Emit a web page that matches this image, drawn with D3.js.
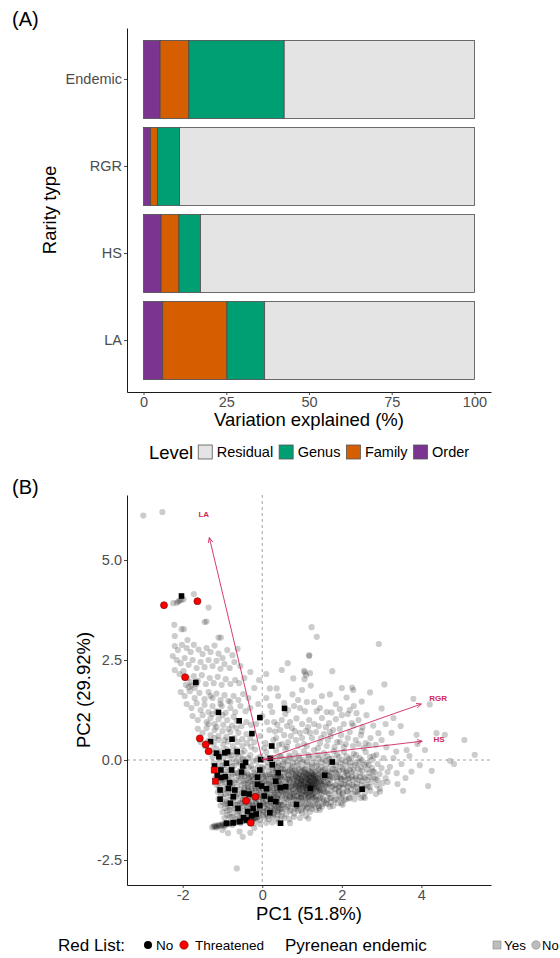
<!DOCTYPE html>
<html>
<head>
<meta charset="utf-8">
<script src="https://cdn.jsdelivr.net/npm/d3@7"></script>
<style>
  body { margin: 0; background: #fff; }
  svg { font-family: "Liberation Sans", Arial, Helvetica, sans-serif; }
</style>
</head>
<body>
<div id="chart"></div>
<script>
// ---------------- panel A data ----------------
const rarityTypes = ["Endemic", "RGR", "HS", "LA"];
const levels = ["Order", "Family", "Genus", "Residual"];
const legendLevels = ["Residual", "Genus", "Family", "Order"];
const orderVals = [5.0, 2.1, 5.3, 5.8];
const familyVals = [8.7, 2.1, 5.4, 19.4];
const genusVals = [28.8, 6.7, 6.5, 11.4];
const residualVals = [57.5, 89.1, 82.8, 63.4];
const pctTicks = [0, 25, 50, 75, 100];

// ---------------- panel B data ----------------
const pc1Ticks = [-2, 0, 2, 4];
const pc2Ticks = [-2.5, 0, 2.5, 5];
const loadNames = ["LA", "RGR", "HS"];
const loadPC1 = [-1.33, 4.0, 4.02];
const loadPC2 = [5.56, 1.4, 0.47];

// grey cloud: species that are neither endemic nor threatened
const cloudCoreA = [
  [0.52,-0.22],[0.61,-0.31],[0.7,-0.25],[0.78,-0.35],[0.86,-0.28],[0.95,-0.33],[1.04,-0.24],[1.12,-0.36],[1.2,-0.29],[1.28,-0.38],[1.36,-0.27],[1.45,-0.34],[1.53,-0.25],[1.62,-0.37],[1.7,-0.3],[1.78,-0.22],
  [0.55,-0.42],[0.64,-0.48],[0.73,-0.41],[0.81,-0.5],[0.9,-0.44],[0.98,-0.52],[1.07,-0.45],[1.15,-0.5],[1.23,-0.43],[1.31,-0.51],[1.4,-0.46],[1.48,-0.53],[1.57,-0.44],[1.66,-0.5],[1.75,-0.42],
  [0.5,-0.6],[0.59,-0.66],[0.68,-0.58],[0.76,-0.64],[0.85,-0.6],[0.93,-0.69],[1.02,-0.61],[1.1,-0.67],[1.19,-0.58],[1.27,-0.65],[1.35,-0.6],[1.44,-0.7],[1.52,-0.62],[1.61,-0.67],[1.7,-0.59],[1.79,-0.65],
  [0.54,-0.78],[0.63,-0.84],[0.72,-0.76],[0.8,-0.83],[0.89,-0.77],[0.97,-0.86],[1.06,-0.79],[1.14,-0.85],[1.23,-0.77],[1.31,-0.84],[1.4,-0.78],[1.49,-0.86],[1.58,-0.8],[1.67,-0.85],
  [0.57,-0.95],[0.66,-1.0],[0.75,-0.93],[0.84,-0.99],[0.93,-0.94],[1.01,-1.02],[1.1,-0.96],[1.19,-1.01],[1.28,-0.94],[1.37,-1.0],[1.46,-0.95],[1.55,-1.02],
  [0.56,-0.32],[0.66,-0.38],[0.75,-0.3],[0.83,-0.42],[0.92,-0.37],[1.0,-0.42],[1.09,-0.33],[1.18,-0.4],[1.26,-0.34],[1.33,-0.42],[1.42,-0.38],[1.5,-0.43],[1.59,-0.33],[1.68,-0.4],
  [0.6,-0.55],[0.69,-0.51],[0.78,-0.56],[0.87,-0.53],[0.96,-0.58],[1.04,-0.54],[1.13,-0.59],[1.21,-0.53],[1.3,-0.57],[1.38,-0.53],[1.47,-0.58],[1.55,-0.54],[1.64,-0.58],
  [0.58,-0.72],[0.67,-0.7],[0.77,-0.73],[0.86,-0.69],[0.95,-0.75],[1.03,-0.71],[1.12,-0.74],[1.2,-0.7],[1.29,-0.73],[1.38,-0.69],[1.46,-0.75],[1.55,-0.72],
  [0.6,-0.88],[0.7,-0.91],[0.79,-0.89],[0.88,-0.9],[0.98,-0.92],[1.08,-0.88],[1.17,-0.91],[1.26,-0.88],[1.35,-0.91],
  [1.0,-0.47],[1.08,-0.5],[1.16,-0.45],[1.24,-0.55],[1.32,-0.48],[1.05,-0.62],[1.14,-0.66],[1.22,-0.62],[1.3,-0.69],[1.11,-0.39],[1.2,-0.52],[1.27,-0.45],[0.88,-0.46],[0.94,-0.63],[1.36,-0.56]
];
const cloudCoreA2 = [
  [0.32,0.04],[0.44,0.09],[0.56,0.01],[0.68,0.11],[0.8,0.03],[0.92,0.1],[1.04,0.0],[1.16,0.12],[1.28,0.05],[1.4,0.13],[1.52,0.02],[1.64,0.1],[1.76,0.04],[1.88,0.13],[2.0,0.0],[2.12,0.09],[2.24,0.05],[2.36,0.12],[2.5,0.0],
  [0.3,-0.1],[0.41,-0.14],[0.53,-0.06],[0.65,-0.12],[0.77,-0.07],[0.89,-0.13],[1.01,-0.05],[1.13,-0.12],[1.25,-0.07],[1.37,-0.14],[1.49,-0.06],[1.61,-0.11],[1.73,-0.05],[1.85,-0.13],[1.97,-0.07],[2.09,-0.12],[2.21,-0.06],[2.33,-0.13],[2.45,-0.05],[2.57,-0.12],
  [0.35,-0.25],[0.45,-0.29],[0.57,-0.24],[0.66,-0.28],[0.74,-0.21],[0.82,-0.26],[0.91,-0.22],[0.99,-0.28],[1.08,-0.23],[1.16,-0.27],[1.25,-0.2],[1.33,-0.3],[1.41,-0.23],[1.49,-0.29],[1.58,-0.22],[1.66,-0.27],[1.75,-0.33],[1.83,-0.24],[1.93,-0.27],[2.02,-0.22],[2.11,-0.32],[2.2,-0.24],[2.3,-0.26],[2.4,-0.21],[2.52,-0.27],[2.64,-0.23],[2.78,-0.28],
  [0.33,-0.44],[0.46,-0.42],[0.58,-0.47],[0.68,-0.45],[0.76,-0.47],[0.85,-0.4],[0.94,-0.48],[1.03,-0.39],[1.12,-0.47],[1.19,-0.44],[1.28,-0.41],[1.36,-0.45],[1.45,-0.41],[1.53,-0.48],[1.62,-0.42],[1.71,-0.47],[1.8,-0.45],[1.88,-0.43],[1.97,-0.46],[2.06,-0.42],[2.15,-0.47],[2.25,-0.41],[2.35,-0.46],[2.46,-0.42],[2.58,-0.46],[2.7,-0.42],[2.85,-0.47],
  [0.32,-0.62],[0.45,-0.6],[0.55,-0.66],[0.64,-0.62],[0.73,-0.67],[0.81,-0.61],[0.9,-0.65],[0.98,-0.6],[1.07,-0.66],[1.16,-0.62],[1.24,-0.68],[1.32,-0.63],[1.41,-0.66],[1.49,-0.6],[1.58,-0.64],[1.67,-0.62],[1.75,-0.68],[1.84,-0.62],[1.94,-0.65],[2.04,-0.6],[2.15,-0.66],[2.26,-0.62],[2.37,-0.67],[2.5,-0.63],[2.65,-0.67],
  [0.36,-0.8],[0.48,-0.77],[0.59,-0.82],[0.68,-0.79],[0.76,-0.84],[0.85,-0.8],[0.93,-0.83],[1.02,-0.78],[1.1,-0.82],[1.19,-0.8],[1.27,-0.83],[1.36,-0.79],[1.45,-0.82],[1.54,-0.78],[1.63,-0.82],[1.72,-0.77],[1.82,-0.83],[1.92,-0.78],[2.03,-0.82],[2.15,-0.79],[2.27,-0.84],[2.4,-0.79],
  [0.38,-0.96],[0.5,-0.93],[0.61,-0.98],[0.7,-0.95],[0.8,-0.97],[0.89,-0.99],[0.98,-0.96],[1.06,-0.99],[1.15,-0.95],[1.24,-0.98],[1.33,-0.96],[1.42,-0.99],[1.52,-0.96],[1.62,-0.99],[1.73,-0.94],[1.85,-0.97],[1.98,-0.95],[2.1,-0.98],
  [0.4,-1.12],[0.55,-1.08],[0.66,-1.14],[0.77,-1.1],[0.87,-1.15],[0.97,-1.1],[1.07,-1.14],[1.17,-1.1],[1.27,-1.13],[1.38,-1.09],[1.5,-1.16],[1.6,-1.08],[1.73,-1.06],
  [0.45,-1.24],[0.58,-1.22],[0.72,-1.25],[0.86,-1.22],[0.98,-1.26],[1.12,-1.2],[1.25,-1.22],[1.42,-1.2],
  [0.84,-0.34],[0.97,-0.38],[1.06,-0.31],[1.15,-0.35],[1.24,-0.31],[1.3,-0.37],[0.9,-0.55],[0.99,-0.52],[1.09,-0.56],[1.18,-0.55],[1.26,-0.6],[1.34,-0.52],[1.43,-0.55],
  [0.83,-0.66],[0.92,-0.72],[1.0,-0.68],[1.09,-0.7],[1.17,-0.68],[1.25,-0.73],[1.34,-0.67],[1.42,-0.73],[1.0,-0.85],[1.12,-0.82],[1.22,-0.86]
];
const cloudCoreB = [
  [-0.38,-0.33],[-0.29,-0.4],[-0.2,-0.31],[-0.11,-0.38],[-0.02,-0.3],[0.07,-0.37],[0.16,-0.29],[0.25,-0.36],[0.34,-0.3],[0.43,-0.38],
  [-0.4,-0.5],[-0.31,-0.55],[-0.22,-0.48],[-0.13,-0.56],[-0.04,-0.49],[0.05,-0.54],[0.14,-0.47],[0.23,-0.55],[0.32,-0.48],[0.41,-0.53],[0.48,-0.46],
  [-0.37,-0.66],[-0.28,-0.72],[-0.19,-0.65],[-0.1,-0.71],[-0.01,-0.64],[0.08,-0.7],[0.17,-0.63],[0.26,-0.71],[0.35,-0.65],[0.44,-0.7],
  [-0.4,-0.84],[-0.31,-0.88],[-0.22,-0.82],[-0.13,-0.89],[-0.04,-0.81],[0.05,-0.87],[0.14,-0.8],[0.23,-0.88],[0.32,-0.82],[0.41,-0.86],[0.49,-0.8],
  [-0.36,-1.0],[-0.27,-1.05],[-0.18,-0.98],[-0.09,-1.04],[0.0,-0.97],[0.09,-1.03],[0.18,-0.96],[0.27,-1.04],[0.36,-0.98],[0.45,-1.05],
  [-0.39,-1.17],[-0.3,-1.21],[-0.21,-1.15],[-0.12,-1.2],[-0.03,-1.14],[0.06,-1.19],[0.15,-1.13],[0.24,-1.2],[0.33,-1.15],[0.42,-1.19],
  [-0.34,-1.33],[-0.25,-1.37],[-0.16,-1.31],[-0.07,-1.36],[0.02,-1.3],[0.11,-1.35],[0.2,-1.29],[0.29,-1.34],[0.38,-1.3],
  [-0.33,-0.45],[-0.24,-0.6],[-0.15,-0.44],[-0.06,-0.59],[0.03,-0.42],[0.12,-0.6],[0.21,-0.42],[0.3,-0.6],[0.39,-0.43],
  [-0.34,-0.78],[-0.25,-0.93],[-0.16,-0.76],[-0.07,-0.93],[0.02,-0.75],[0.11,-0.92],[0.2,-0.75],[0.29,-0.93],[0.38,-0.76],
  [-0.32,-1.11],[-0.23,-1.27],[-0.14,-1.09],[-0.05,-1.26],[0.04,-1.08],[0.13,-1.26],[0.22,-1.08],[0.31,-1.26],[0.4,-1.1]
];
const cloudCoreB2 = [
  [-0.48,0.02],[-0.36,0.05],[-0.24,-0.02],[-0.12,0.04],[0.0,0.0],[0.12,0.06],[0.24,-0.01],
  [-0.46,-0.22],[-0.34,-0.18],[-0.22,-0.23],[-0.1,-0.17],[0.02,-0.22],[0.14,-0.16],[0.26,-0.24],[0.38,-0.18],[0.48,-0.22],
  [-0.44,-0.4],[-0.35,-0.37],[-0.26,-0.41],[-0.17,-0.36],[-0.08,-0.42],[0.01,-0.37],[0.1,-0.41],[0.19,-0.36],[0.28,-0.42],[0.37,-0.37],[0.46,-0.41],
  [-0.45,-0.58],[-0.36,-0.6],[-0.27,-0.53],[-0.18,-0.59],[-0.09,-0.53],[0.0,-0.58],[0.09,-0.52],[0.18,-0.59],[0.27,-0.53],[0.36,-0.59],[0.45,-0.56],
  [-0.44,-0.74],[-0.35,-0.7],[-0.26,-0.76],[-0.17,-0.7],[-0.08,-0.76],[0.01,-0.7],[0.1,-0.76],[0.19,-0.69],[0.28,-0.76],[0.37,-0.7],[0.46,-0.75],
  [-0.44,-0.92],[-0.35,-0.95],[-0.26,-0.89],[-0.17,-0.94],[-0.08,-0.88],[0.01,-0.93],[0.1,-0.87],[0.19,-0.93],[0.28,-0.87],[0.37,-0.93],[0.46,-0.9],
  [-0.43,-1.08],[-0.34,-1.06],[-0.25,-1.12],[-0.16,-1.06],[-0.07,-1.12],[0.02,-1.05],[0.11,-1.11],[0.2,-1.05],[0.29,-1.12],[0.38,-1.05],[0.47,-1.12],
  [-0.42,-1.25],[-0.33,-1.28],[-0.24,-1.22],[-0.15,-1.27],[-0.06,-1.21],[0.03,-1.27],[0.12,-1.21],[0.21,-1.26],[0.3,-1.21],[0.39,-1.26],[0.48,-1.22],
  [-0.35,-1.4],[-0.22,-1.38],[-0.1,-1.42],[0.02,-1.38],[0.14,-1.41],[0.26,-1.37],[0.4,-1.38]
];
const cloudEdge = [
  [-0.45,0.22],[-0.3,0.12],[-0.18,0.26],[-0.05,0.08],[0.1,0.2],[0.22,0.05],[0.35,0.24],[0.47,0.1],[0.58,0.27],[0.7,0.06],[0.82,0.18],[0.94,0.02],[1.05,0.22],[1.17,0.08],[1.3,0.25],[1.42,0.04],[1.55,0.17],[1.68,0.03],[1.8,0.22],[1.92,0.08],[2.05,0.2],[2.18,0.02],[2.3,0.16],[2.45,0.05],[2.6,0.2],[2.75,0.0],
  [-0.42,-0.05],[-0.28,-0.15],[-0.14,-0.02],[0.0,-0.18],[0.13,-0.06],[0.27,-0.2],[0.4,-0.08],[0.52,-0.12],[0.64,-0.03],[0.76,-0.15],[0.88,-0.06],[1.0,-0.19],[1.12,-0.05],[1.24,-0.16],[1.36,-0.08],[1.48,-0.18],[1.6,-0.02],[1.72,-0.14],[1.85,-0.06],[1.97,-0.17],[2.1,-0.04],[2.22,-0.15],[2.35,-0.07],[2.48,-0.18],[2.62,-0.08],[2.76,-0.2],[2.9,-0.1],
  [1.85,-0.3],[1.95,-0.42],[2.05,-0.28],[2.15,-0.38],[2.25,-0.3],[2.35,-0.4],[2.45,-0.32],[2.55,-0.42],[2.68,-0.33],[2.8,-0.43],[2.95,-0.35],[3.1,-0.45],
  [1.88,-0.52],[1.98,-0.6],[2.08,-0.5],[2.18,-0.58],[2.28,-0.5],[2.38,-0.6],[2.5,-0.53],[2.62,-0.62],[2.75,-0.55],[2.88,-0.63],[3.02,-0.58],
  [1.84,-0.72],[1.93,-0.8],[2.03,-0.7],[2.13,-0.78],[2.23,-0.72],[2.34,-0.8],[2.46,-0.74],[2.58,-0.82],[2.72,-0.77],[2.86,-0.85],
  [1.7,-0.95],[1.82,-1.0],[1.94,-0.92],[2.06,-1.0],[2.18,-0.94],[2.32,-0.98],[2.48,-0.95],[1.65,-1.1],[1.78,-1.15],[1.9,-1.08],[2.02,-1.12],
  [1.9,-0.35],[2.0,-0.48],[2.1,-0.62],[2.2,-0.45],[2.3,-0.66],[2.42,-0.5],[1.92,-0.68],[2.02,-0.85],[2.55,-0.7],[2.65,-0.5],[2.4,-0.85],[2.12,-0.28],
  [2.68,-0.12],[2.82,-0.3],[2.9,-0.5],[3.0,-0.2],[2.7,-0.68],[2.95,-0.72],[3.15,-0.3],[2.58,-0.95],[2.8,0.1],[3.05,0.05],
  [0.52,-1.12],[0.62,-1.18],[0.72,-1.1],[0.82,-1.2],[0.92,-1.12],[1.02,-1.18],[1.12,-1.1],[1.22,-1.16],[1.32,-1.1],[1.42,-1.15],[1.52,-1.1],
  [0.5,-1.3],[0.6,-1.36],[0.7,-1.28],[0.8,-1.34],[0.9,-1.27],[1.0,-1.32],[1.1,-1.25],[1.2,-1.3],[1.35,-1.25],
  [0.55,-1.45],[0.68,-1.48],[0.8,-1.42],[0.95,-1.45],[1.1,-1.4],
  [-0.38,-1.45],[-0.28,-1.5],[-0.17,-1.44],[-0.06,-1.5],[0.05,-1.43],[0.16,-1.48],[0.27,-1.42],[0.38,-1.47],[0.48,-1.41],
  [-0.2,-1.58],[-0.05,-1.6],[0.1,-1.57],[0.25,-1.56],[0.4,-1.55]
];
const cloudLowerLeft = [
  [-1.28,0.25],[-1.15,0.28],[-1.02,0.22],[-0.9,0.27],[-0.78,0.2],[-0.65,0.26],[-0.52,0.18],
  [-1.25,0.08],[-1.12,0.12],[-0.98,0.05],[-0.85,0.1],[-0.72,0.03],[-0.6,0.1],[-0.5,0.02],
  [-1.22,-0.08],[-1.08,-0.05],[-0.95,-0.12],[-0.82,-0.06],[-0.7,-0.14],[-0.58,-0.05],[-0.47,-0.16],
  [-1.2,-0.28],[-1.05,-0.22],[-0.92,-0.3],[-0.8,-0.24],[-0.68,-0.32],[-0.56,-0.26],[-0.46,-0.34],
  [-1.18,-0.45],[-1.04,-0.4],[-0.9,-0.48],[-0.78,-0.42],[-0.66,-0.5],[-0.54,-0.44],[-0.45,-0.52],
  [-1.15,-0.62],[-1.02,-0.58],[-0.88,-0.65],[-0.76,-0.6],[-0.64,-0.68],[-0.52,-0.62],[-0.45,-0.7],
  [-1.12,-0.8],[-1.0,-0.76],[-0.86,-0.82],[-0.74,-0.78],[-0.62,-0.86],[-0.5,-0.8],
  [-1.1,-0.97],[-0.98,-0.93],[-0.85,-1.0],[-0.72,-0.95],[-0.6,-1.03],[-0.48,-0.98],
  [-1.05,-1.14],[-0.93,-1.1],[-0.8,-1.17],[-0.68,-1.12],[-0.56,-1.2],[-0.46,-1.15],
  [-1.0,-1.3],[-0.88,-1.27],[-0.75,-1.33],[-0.62,-1.29],[-0.5,-1.36],
  [-0.95,-1.45],[-0.82,-1.42],[-0.68,-1.47],[-0.55,-1.43],
  [-0.8,-0.55],[-0.7,-0.9],[-0.6,-0.4],[-0.55,-1.08],[-0.65,-1.22],[-0.75,-0.7],[-0.9,-1.05],[-1.0,-0.5],
  [-1.2,0.18],[-1.05,0.14],[-0.92,0.18],[-0.78,0.12],[-0.64,0.16],[-0.55,-0.1],[-0.66,-0.04],[-0.76,-0.16],[-0.88,-0.18],[-1.0,-0.14],[-1.12,-0.2],
  [-1.14,-0.34],[-0.98,-0.35],[-0.86,-0.36],[-0.74,-0.35],[-0.62,-0.33],[-0.52,-0.4],[-1.1,-0.54],[-0.95,-0.56],[-0.84,-0.5],[-0.7,-0.56],[-0.58,-0.54],
  [-1.08,-0.7],[-0.94,-0.72],[-0.82,-0.74],[-0.68,-0.8],[-0.56,-0.74],[-1.04,-0.88],[-0.92,-0.85],[-0.8,-0.9],[-0.66,-0.9],[-0.53,-0.9],
  [-1.0,-1.05],[-0.86,-1.12],[-0.74,-1.05],[-0.62,-1.12],[-0.5,-1.06],[-0.94,-1.2],[-0.82,-1.25],[-0.7,-1.2],[-0.56,-1.27],[-0.88,-1.38],[-0.75,-1.42],[-0.62,-1.38],[-0.5,-1.45]
];
const cloudStreak = [
  [-1.26,-1.68],[-1.22,-1.67],[-1.18,-1.66],[-1.14,-1.66],[-1.1,-1.65],[-1.06,-1.64],[-1.02,-1.63],[-0.98,-1.62],[-0.94,-1.62],[-0.9,-1.61],
  [-0.86,-1.6],[-0.82,-1.59],[-0.78,-1.58],[-0.74,-1.58],[-0.7,-1.57],[-0.66,-1.56],[-0.62,-1.55],[-0.58,-1.54],[-0.54,-1.54],[-0.5,-1.53],
  [-0.46,-1.52],[-0.42,-1.51],[-0.38,-1.5],[-0.34,-1.5],[-0.3,-1.49],[-0.26,-1.48],[-0.22,-1.47],[-0.18,-1.46],[-0.14,-1.46],
  [-1.2,-1.64],[-1.1,-1.62],[-1.0,-1.6],[-0.9,-1.58],[-0.8,-1.56],[-0.7,-1.54],[-0.6,-1.52],[-0.5,-1.5],[-0.4,-1.48],[-0.3,-1.46],[-0.2,-1.44],
  [-1.15,-1.69],[-0.95,-1.66],[-0.75,-1.62],[-0.55,-1.58],[-0.35,-1.54],
  [-0.86,-1.83],[-0.57,-1.79],[-0.49,-1.92],[-0.3,-1.82],[-0.64,-2.71],[-1.0,-1.75],[-0.2,-1.7]
];
const cloudLeftArm = [
  [-2.2,2.85],[-2.12,2.75],[-2.02,2.88],[-1.9,2.8],[-1.8,2.7],[-1.72,2.88],[-1.6,2.76],[-1.5,2.65],[-1.4,2.8],[-1.3,2.7],[-1.2,2.86],[-1.1,2.66],[-1.0,2.55],[-0.88,2.75],[-0.75,2.62],[-0.62,2.78],
  [-2.25,2.6],[-2.15,2.5],[-2.05,2.42],[-1.95,2.55],[-1.85,2.38],[-1.75,2.5],[-1.65,2.3],[-1.55,2.45],[-1.45,2.32],[-1.35,2.5],[-1.25,2.35],[-1.15,2.48],[-1.05,2.28],[-0.95,2.4],[-0.82,2.3],[-0.7,2.45],[-0.55,2.35],
  [-2.2,2.25],[-2.08,2.15],[-1.98,2.22],[-1.88,2.05],[-1.8,1.95],[-1.72,2.1],[-1.62,1.98],[-1.52,2.12],[-1.42,1.9],[-1.32,2.05],[-1.22,1.92],[-1.12,2.08],[-1.02,1.88],[-0.92,2.02],[-0.8,1.9],[-0.68,2.0],[-0.58,1.92],[-0.45,2.05],
  [-1.92,1.88],[-1.85,1.82],[-1.78,1.86],[-1.7,1.8],[-1.65,1.9],
  [-2.05,1.7],[-1.95,1.6],[-1.82,1.72],[-1.7,1.55],[-1.58,1.68],[-1.45,1.52],[-1.35,1.7],[-1.25,1.55],[-1.15,1.66],[-1.05,1.5],[-0.95,1.62],[-0.85,1.48],[-0.72,1.6],[-0.6,1.5],[-0.48,1.65],[-0.35,1.55],
  [-1.9,1.4],[-1.78,1.3],[-1.65,1.42],[-1.55,1.25],[-1.45,1.38],[-1.35,1.2],[-1.25,1.35],[-1.15,1.22],[-1.02,1.35],[-0.92,1.18],[-0.8,1.3],[-0.68,1.2],[-0.55,1.35],[-0.42,1.22],[-0.3,1.3],
  [-1.75,1.1],[-1.62,1.0],[-1.5,1.12],[-1.4,0.95],[-1.3,1.05],[-1.2,0.9],[-1.1,1.02],[-0.98,0.88],[-0.88,1.0],[-0.76,0.86],[-0.64,0.98],[-0.52,0.85],[-0.4,0.95],[-0.28,0.88],
  [-1.62,0.78],[-1.5,0.68],[-1.4,0.8],[-1.3,0.62],[-1.2,0.75],[-1.1,0.6],[-1.0,0.72],[-0.9,0.58],[-0.8,0.7],[-0.7,0.55],[-0.6,0.68],[-0.5,0.52],[-0.4,0.65],[-0.3,0.55],
  [-1.55,0.45],[-1.45,0.35],[-1.35,0.48],[-1.22,0.4],[-1.1,0.5],[-0.98,0.38],[-0.86,0.46],[-0.74,0.35],[-0.62,0.45],[-0.5,0.35],[-0.38,0.42],[-0.28,0.33],
  [-1.25,1.15],[-1.0,1.12],[-0.85,0.78],[-1.15,0.82],[-0.72,1.08],[-0.95,0.5],[-1.2,0.55],[-0.65,0.8],[-1.35,0.9],[-0.8,1.45],[-1.05,1.4],[-1.3,1.6]
];
const cloudUpper = [
  [0.49,2.25],[0.64,2.42],[1.07,2.19],[1.2,2.17],[1.76,2.22],[1.06,2.02],[1.22,1.86],[3.07,1.89],[3.8,1.53],[4.21,1.39],[0.76,1.64],[1.7,1.64],[2.29,1.75],[2.71,1.69],[2.12,1.56],[2.5,1.46],[3.0,1.29],
  [1.37,1.22],[1.07,1.22],[1.74,1.19],[1.95,1.27],[2.37,1.17],[0.86,1.04],[1.68,0.92],[0.49,1.0],[0.32,0.71],[2.29,0.86],[2.52,0.82],[2.79,0.86],[2.92,0.67],
  [-0.2,0.45],[-0.05,0.6],[0.08,0.42],[0.18,0.75],[0.28,0.5],[0.42,0.38],[0.55,0.62],[0.65,0.45],[0.75,0.8],[0.85,0.5],[0.95,0.68],[1.05,0.4],[1.15,0.82],[1.25,0.55],[1.35,0.7],[1.45,0.42],[1.55,0.65],[1.65,0.5],[1.78,0.75],[1.88,0.45],[1.98,0.62],[2.1,0.4],[2.2,0.7],[2.35,0.5],[2.48,0.62],[2.6,0.42],[2.72,0.55],[2.85,0.38],[3.0,0.5],
  [-0.15,0.9],[0.0,1.1],[0.12,0.95],[0.25,1.2],[0.38,0.88],[0.58,1.15],[0.7,0.95],[0.95,1.3],[1.18,1.0],[1.3,0.9],[1.5,1.05],[1.6,0.82],[1.85,1.02],[2.05,0.9],[2.15,1.15],[2.42,1.0],[2.62,1.12],
  [-0.1,1.4],[0.1,1.55],[0.2,1.35],[0.4,1.6],[0.55,1.42],[0.9,1.5],[1.0,1.75],[1.3,1.45],[1.5,1.6],[1.85,1.4],[2.0,1.8],[2.3,1.35],
  [-0.08,2.0],[0.19,1.79],[0.36,1.79],[0.1,2.15],[0.78,2.04],[1.05,2.23],[1.1,2.12],[1.18,2.6],[2.26,1.81],[-0.3,2.2],[-0.2,1.8],
  [0.05,0.3],[0.2,0.35],[0.35,0.55],[0.5,0.4],[0.62,0.33],[0.72,0.6],[0.9,0.35],[1.0,0.55],[1.12,0.35],[1.2,0.68],[1.4,0.3],[1.48,0.55],[1.62,0.35],[1.72,0.6],[1.82,0.32],[1.95,0.45],[2.05,0.32],[2.15,0.55],[2.28,0.35],[2.42,0.4],[2.55,0.3],[2.68,0.38],
  [0.3,0.95],[0.45,0.75],[0.62,0.85],[0.82,0.72],[1.0,0.9],[1.1,0.72],[1.42,0.85],[1.7,0.7],[1.95,0.78],[2.25,0.92],[2.5,0.72],[0.65,1.25],[0.8,1.35],[1.12,1.45],[1.45,1.3],[1.62,1.2],[2.0,1.12],[2.2,1.25]
];
const cloudTail = [
  [3.48,0.85],[3.25,0.68],[3.88,0.63],[4.38,0.67],[4.59,0.63],[5.08,0.5],[4.09,0.25],[5.34,0.13],[4.72,-0.02],[4.82,-0.1],[3.12,0.32],[3.37,0.21],[3.63,0.25],[2.87,0.13],[2.71,0.08],
  [3.75,-0.29],[4.26,-0.27],[4.17,-0.65],[3.54,-0.77],[2.96,-0.79],[3.38,-0.33],[3.96,-0.13],[3.21,-0.17],
  [0.7,-1.58],[1.16,-1.46],[1.45,-1.25],[1.7,-1.17],[1.99,-1.08],[2.2,-0.96],[2.54,-0.92],
  [3.3,0.05],[3.5,-0.1],[3.7,0.1],[3.15,-0.55],[3.4,-0.6],[3.6,-0.45],[3.9,0.4],[3.1,0.9],[3.3,1.05]
];
const cloudOutliers = [
  [1.24,3.32],[1.37,3.08],[2.93,2.9],[1.18,2.62],[-2.99,6.11],[-2.51,6.2],
  [-2.24,3.92],[-2.11,3.96],[-2.03,4.0],[-2.15,3.93],[-2.08,3.98],[-1.98,4.02],[-1.72,4.15],[-1.35,3.81],
  [-2.21,3.38],[-2.03,3.27],[-1.45,3.45],[-1.1,3.06],[-1.4,3.46],[-1.97,3.27],[-1.04,3.06],[-2.2,3.1],[-1.88,3.0]
];

// endemic species (black squares)
const endemicPts = [
  [-2.03,4.1],[-1.67,1.94],[-1.1,1.19],[-0.58,0.98],[-0.06,1.06],[0.56,1.29],[-0.26,0.66],[-0.76,0.52],[-1.3,0.46],[0.24,0.35],
  [-1.15,0.17],[-1.09,0.08],[-0.94,0.18],[-0.87,0.21],[-0.63,0.21],[0.2,0.04],[-0.9,-0.08],[-0.42,-0.06],[-0.49,-0.15],[0.25,-0.12],
  [-1.2,-0.15],[-0.77,-0.25],[-0.06,-0.25],[-1.13,-0.38],[-0.93,-0.42],[0.4,-0.32],[-0.12,-0.43],[-0.82,-0.57],[0.34,-0.53],[-0.12,-0.61],
  [-0.02,-0.65],[0.45,-0.69],[0.59,-0.67],[-1.06,-0.75],[-0.85,-0.71],[-0.69,-0.75],[-0.46,-0.83],[-0.33,-0.85],[-1.06,-0.98],[-0.73,-0.92],
  [0.05,-0.9],[0.21,-0.98],[0.34,-1.04],[-0.8,-1.08],[-0.61,-1.21],[-0.37,-1.29],[-0.23,-1.21],[-0.06,-1.14],[-0.27,-1.39],[-0.15,-1.35],
  [0.19,-1.32],[0.86,-1.11],[0.46,-1.58],[1.21,-0.71],[1.57,-0.38],[1.76,-0.05],[2.51,-0.73],[-0.9,-1.58],[-0.73,-1.57],[-0.56,-1.54],
  [-0.39,-1.5],[-1.04,-0.44],[-1.04,-0.25],[0.11,-0.72],[-0.47,-1.44],[-0.04,0.01],[-0.52,-0.3]
];
// threatened species (red): circles = not endemic, squares = endemic
const threatCircles = [
  [-2.47,3.87],[-1.63,3.97],[-1.94,2.07],[-1.57,0.54],[-1.42,0.39],[-1.35,0.22],[-0.41,-1.02],[-0.17,-0.92],[-0.29,-1.57]
];
const threatSquares = [[-1.21,-0.25],[-1.18,-0.53]];

// ---------------- drawing ----------------
const W = 560, H = 958;
const fillOf = { Order: "#7b3590", Family: "#d55e00", Genus: "#009e73", Residual: "#e4e4e4" };
const tickGrey = "#4d4d4d";
const hyphenNum = d => (d < 0 ? "-" : "") + Math.abs(d);
const hyphenNum1 = d => (d < 0 ? "-" : "") + Math.abs(d).toFixed(1);

const svg = d3.select("#chart").append("svg")
    .attr("width", W)
    .attr("height", H);

function styleAxis(g) {
    g.attr("font-family", null).attr("font-size", null);
    g.select(".domain").attr("stroke", "#000").attr("stroke-width", 0.9);
    g.selectAll(".tick line").attr("stroke", "#333").attr("stroke-width", 0.9);
    g.selectAll(".tick text").attr("fill", tickGrey).style("font-size", "14.5px");
}

// **************** Panel A ****************
svg.append("text").attr("x", 12).attr("y", 26).style("font-size", "20px").text("(A)");

const xA = d3.scaleLinear().domain([-5, 105]).range([127, 491]);
const yA = d3.scaleBand().domain(rarityTypes).range([28, 392])
    .paddingInner(0.104).paddingOuter(0.143);

const rowsA = rarityTypes.map((t, i) => ({
    type: t, Order: orderVals[i], Family: familyVals[i], Genus: genusVals[i], Residual: residualVals[i]
}));
const stackA = d3.stack().keys(levels)(rowsA);

svg.append("g").selectAll("g")
    .data(stackA)
    .join("g")
    .attr("fill", d => fillOf[d.key])
    .selectAll("rect")
    .data(d => d)
    .join("rect")
    .attr("x", d => xA(d[0]))
    .attr("width", d => xA(d[1]) - xA(d[0]))
    .attr("y", d => yA(d.data.type))
    .attr("height", yA.bandwidth())
    .attr("stroke", "#4a4a4a")
    .attr("stroke-width", 0.8);

svg.append("g").attr("transform", "translate(127,0)")
    .call(d3.axisLeft(yA).tickSize(3).tickPadding(2).tickSizeOuter(0))
    .call(styleAxis);
svg.append("g").attr("transform", "translate(0,392)")
    .call(d3.axisBottom(xA).tickValues(pctTicks).tickSize(3).tickPadding(2).tickSizeOuter(0))
    .call(styleAxis);

svg.append("text")
    .attr("transform", "translate(56,210) rotate(-90)")
    .attr("text-anchor", "middle")
    .style("font-size", "18.5px")
    .text("Rarity type");
svg.append("text")
    .attr("x", 309).attr("y", 426)
    .attr("text-anchor", "middle")
    .style("font-size", "18.5px")
    .text("Variation explained (%)");

// legend A
const legA = svg.append("g").attr("transform", "translate(0,452)");
const legTitle = legA.append("text").attr("x", 149).attr("y", 6.5).style("font-size", "18.5px").text("Level");
let lx = 149 + legTitle.node().getComputedTextLength() + 5;
legendLevels.forEach(k => {
    legA.append("rect").attr("x", lx).attr("y", -7).attr("width", 14).attr("height", 14)
        .attr("fill", fillOf[k]).attr("stroke", "#555").attr("stroke-width", 0.8);
    const t = legA.append("text").attr("x", lx + 18.5).attr("y", 5).style("font-size", "14.5px").text(k);
    lx += 18.5 + t.node().getComputedTextLength() + 6;
});

// **************** Panel B ****************
svg.append("text").attr("x", 12).attr("y", 494).style("font-size", "20px").text("(B)");

const xB = d3.scaleLinear().domain([-3.4, 5.75]).range([127, 491]);
const yB = d3.scaleLinear().domain([-3.125, 6.625]).range([885, 495]);

const cloud = [].concat(cloudCoreA, cloudCoreA2, cloudCoreB, cloudCoreB2, cloudEdge, cloudLowerLeft,
    cloudStreak, cloudLeftArm, cloudUpper, cloudTail, cloudOutliers);

svg.append("g").selectAll("circle")
    .data(cloud)
    .join("circle")
    .attr("cx", d => xB(d[0]))
    .attr("cy", d => yB(d[1]))
    .attr("r", 3.1)
    .attr("fill", "#000")
    .attr("fill-opacity", 0.2);

// reference lines
svg.append("line")
    .attr("x1", xB(0)).attr("x2", xB(0)).attr("y1", 495).attr("y2", 885)
    .attr("stroke", "#9a9a9a").attr("stroke-width", 0.9).attr("stroke-dasharray", "3,3");
svg.append("line")
    .attr("x1", 127).attr("x2", 491).attr("y1", yB(0)).attr("y2", yB(0))
    .attr("stroke", "#9a9a9a").attr("stroke-width", 0.9).attr("stroke-dasharray", "3,3");

// endemic and threatened
svg.append("g").selectAll("rect")
    .data(endemicPts)
    .join("rect")
    .attr("x", d => xB(d[0]) - 2.8)
    .attr("y", d => yB(d[1]) - 2.8)
    .attr("width", 5.6).attr("height", 5.6)
    .attr("fill", "#000");
svg.append("g").selectAll("rect")
    .data(threatSquares)
    .join("rect")
    .attr("x", d => xB(d[0]) - 3)
    .attr("y", d => yB(d[1]) - 3)
    .attr("width", 6).attr("height", 6)
    .attr("fill", "#ff0000").attr("stroke", "#7a0000").attr("stroke-width", 0.5);
svg.append("g").selectAll("circle")
    .data(threatCircles)
    .join("circle")
    .attr("cx", d => xB(d[0]))
    .attr("cy", d => yB(d[1]))
    .attr("r", 3.5)
    .attr("fill", "#ff0000").attr("stroke", "#6a0000").attr("stroke-width", 0.6);

// loading arrows
const arrowCol = "#d0285a";
svg.append("defs").append("marker")
    .attr("id", "arr").attr("viewBox", "0 -4 8 8")
    .attr("refX", 7).attr("refY", 0)
    .attr("markerUnits", "userSpaceOnUse")
    .attr("markerWidth", 6).attr("markerHeight", 6)
    .attr("orient", "auto")
    .append("path").attr("d", "M0,-3.2L7,0L0,3.2")
    .attr("fill", "none").attr("stroke", arrowCol).attr("stroke-width", 1.1);

const loads = loadNames.map((n, i) => ({ name: n, x: loadPC1[i], y: loadPC2[i] }));
svg.append("g").selectAll("line")
    .data(loads)
    .join("line")
    .attr("x1", xB(0)).attr("y1", yB(0))
    .attr("x2", d => xB(d.x)).attr("y2", d => yB(d.y))
    .attr("stroke", arrowCol).attr("stroke-width", 0.9)
    .attr("marker-end", "url(#arr)");
svg.append("g").selectAll("text")
    .data(loads)
    .join("text")
    .attr("x", d => xB(d.x * 1.105))
    .attr("y", d => yB(d.y * 1.105) + 3)
    .attr("text-anchor", "middle")
    .attr("fill", arrowCol)
    .style("font-size", "8px")
    .style("font-weight", "bold")
    .text(d => d.name);

svg.append("g").attr("transform", "translate(127,0)")
    .call(d3.axisLeft(yB).tickValues(pc2Ticks).tickFormat(hyphenNum1).tickSize(3).tickPadding(2).tickSizeOuter(0))
    .call(styleAxis);
svg.append("g").attr("transform", "translate(0,885)")
    .call(d3.axisBottom(xB).tickValues(pc1Ticks).tickFormat(hyphenNum).tickSize(3).tickPadding(2).tickSizeOuter(0))
    .call(styleAxis);

svg.append("text")
    .attr("transform", "translate(90,690) rotate(-90)")
    .attr("text-anchor", "middle")
    .style("font-size", "18.5px")
    .text("PC2 (29.92%)");
svg.append("text")
    .attr("x", 309).attr("y", 920)
    .attr("text-anchor", "middle")
    .style("font-size", "18.5px")
    .text("PC1 (51.8%)");

// legend B
const legB = svg.append("g").attr("transform", "translate(0,945)");
legB.append("text").attr("x", 58).attr("y", 6).style("font-size", "17px").text("Red List:");
legB.append("circle").attr("cx", 148).attr("cy", 0).attr("r", 4).attr("fill", "#000");
legB.append("text").attr("x", 156).attr("y", 5).style("font-size", "13.5px").text("No");
legB.append("circle").attr("cx", 184).attr("cy", 0).attr("r", 4.2)
    .attr("fill", "#ff0000").attr("stroke", "#6a0000").attr("stroke-width", 0.6);
legB.append("text").attr("x", 195).attr("y", 5).style("font-size", "13.5px").text("Threatened");
legB.append("text").attr("x", 285).attr("y", 6).style("font-size", "17px").text("Pyrenean endemic");
legB.append("rect").attr("x", 493).attr("y", -4).attr("width", 8).attr("height", 8)
    .attr("fill", "#bdbdbd").attr("stroke", "#8a8a8a").attr("stroke-width", 0.6);
legB.append("text").attr("x", 504).attr("y", 5).style("font-size", "13.5px").text("Yes");
legB.append("circle").attr("cx", 536).attr("cy", 0).attr("r", 4.2)
    .attr("fill", "#bdbdbd").attr("stroke", "#8a8a8a").attr("stroke-width", 0.6);
legB.append("text").attr("x", 542).attr("y", 5).style("font-size", "13px").text("No");
</script>
</body>
</html>
